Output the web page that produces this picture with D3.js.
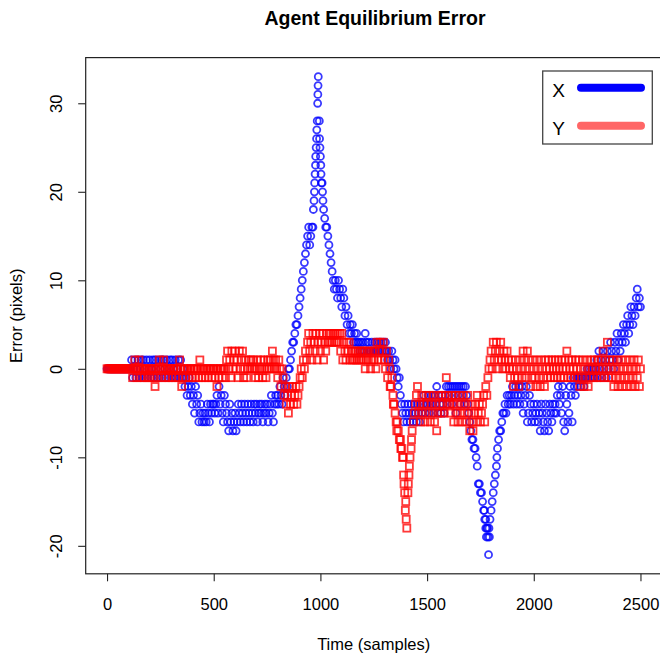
<!DOCTYPE html>
<html><head><meta charset="utf-8">
<script src="https://cdn.jsdelivr.net/npm/d3@7"></script>
<style>
body{margin:0;background:#fff}
text{font-family:"Liberation Sans",Arial,Helvetica,sans-serif;fill:#000}
</style>
</head><body>
<svg id="chart" width="660" height="658"></svg>
<script>
// ---------------- data ----------------
const chartTitle = "Agent Equilibrium Error";
const xLabel = "Time (samples)";
const yLabel = "Error (pixels)";
const seriesNames = ["X", "Y"];
const sampleStep = 5; // one reading every 5 samples, starting at sample 0

// X error (blue circles), samples 0..2500
const xErr = [
 0,0,0,0,0,0,0,0,0,0,0,0,0,0,0,0,0,0,0,0,
 0,0,0,1,-1,0,1,-1,0,1,-1,0,1,-1,1,0,-1,1,-1,0,
 1,-1,0,1,-1,1,0,-1,1,-1,0,1,-1,1,0,-1,1,-1,0,1,
 -1,1,0,-1,1,-1,0,1,-1,1,-1,0,-1,-2,-1,-3,-2,-1,-3,-2,
 -4,-3,-5,-2,-4,-3,-6,-5,-4,-6,-5,-6,-5,-6,-4,-5,-6,-4,-5,-4,
 -4,-5,-4,-3,-5,-2,-4,-3,-5,-6,-3,-4,-5,-6,-7,-4,-6,-5,-7,-6,
 -5,-7,-6,-4,-5,-6,-4,-5,-6,-4,-5,-6,-4,-5,-6,-4,-5,-6,-4,-5,
 -4,-6,-5,-4,-5,-4,-6,-5,-4,-5,-4,-6,-5,-4,-3,-5,-6,-4,-3,-4,
 -3,-4,-2,-3,-4,-1,-2,-3,-1,-2,0,0,1,2,3,3,4,5,5,6,
 7,8,9,10,11,12,13,14,15,16,14,15,16,16,19,22,25,28,33,28,
 24,21,20,18,17,16,16,15,14,13,12,11,10,9,10,9,8,10,9,8,
 7,9,8,6,7,5,6,4,5,4,5,3,4,3,4,3,3,2,3,2,
 3,2,4,3,2,3,2,2,3,2,2,3,2,3,2,3,2,3,2,3,
 2,3,2,1,2,1,0,2,1,0,1,0,-1,-2,-1,-3,-4,-5,-6,-4,
 -5,-6,-4,-5,-6,-4,-5,-6,-4,-5,-6,-4,-5,-6,-4,-5,-4,-3,-5,-4,
 -4,-3,-5,-4,-3,-4,-5,-3,-4,-2,-5,-3,-4,-5,-3,-4,-5,-3,-2,-4,
 -2,-3,-2,-4,-2,-3,-2,-5,-2,-3,-2,-4,-2,-3,-2,-4,-2,-3,-4,-5,
 -6,-7,-8,-8,-9,-9,-10,-11,-13,-13,-14,-14,-15,-16,-17,-17,-18,-19,-18,-17,
 -16,-15,-14,-13,-12,-11,-9,-8,-7,-7,-6,-5,-5,-4,-5,-3,-4,-3,-4,-3,
 -2,-4,-3,-2,-4,-3,-2,-4,-3,-2,-5,-4,-3,-2,-6,-5,-3,-4,-6,-5,
 -4,-6,-5,-4,-6,-5,-7,-4,-5,-6,-7,-4,-5,-6,-7,-4,-5,-6,-4,-5,
 -4,-5,-3,-2,-4,-3,-5,-2,-6,-7,-3,-4,-6,-5,-2,-3,-6,-1,-2,-3,
 -1,-2,-1,-1,-2,-1,-1,-2,-1,-1,0,-1,0,-1,0,-1,0,-1,0,1,
 -1,2,0,1,-1,2,0,1,-1,2,0,1,3,2,1,0,3,2,4,1,
 3,2,4,3,5,4,3,5,6,4,5,7,6,5,7,6,8,9,7,8,
 7
];
// extra X readings in the steep parts (sample, error)
const xExtraTime = [967,972,973,977,978,982,983,987,988,989,996,998,1002,1003,1008,1012,1768,1775,1778,1783,1788,1792,1827];
const xExtraErr  = [18,20,21,23,24,26,27,30,31,32,26,25,23,22,21,19,-16,-18,-19,-18,-21,-19,-10];

// Y error (red squares), samples 0..2500
const yErr = [
 0,0,0,0,0,0,0,0,0,0,0,0,0,0,0,0,0,0,0,0,
 0,0,0,0,-1,0,1,0,-1,0,1,0,-1,0,0,-1,0,0,-1,0,
 -1,0,0,-1,0,-2,0,-1,0,1,0,-1,0,1,0,-1,0,0,-1,0,
 0,-1,0,0,-1,0,0,-1,1,0,-2,-1,0,0,-1,0,0,-1,0,0,
 -1,0,0,-1,0,0,-1,1,0,-1,0,0,-1,0,0,-1,0,0,-1,0,
 0,-1,0,-2,0,-1,0,0,-1,0,0,-1,1,2,0,1,-1,2,0,1,
 2,0,1,-1,2,0,1,2,-1,0,1,-1,0,1,0,1,0,1,0,-1,
 0,1,-1,0,1,0,-1,1,0,-1,0,1,0,1,0,2,1,0,1,0,
 -1,1,0,-2,0,-1,-3,-2,-4,-3,-5,-2,-4,-3,-2,-4,-3,-2,-4,-3,
 -2,-1,0,-1,1,0,2,1,3,4,2,3,1,4,3,2,4,1,3,4,
 2,3,4,1,3,2,4,3,4,3,4,3,4,3,4,3,4,3,4,2,
 4,1,3,2,1,3,2,3,1,2,1,2,1,2,1,2,1,2,1,2,
 1,2,0,1,2,1,2,0,1,2,1,2,0,3,1,2,3,1,2,3,
 1,0,2,-1,1,0,-2,-1,-3,-4,-5,-6,-6,-7,-8,-8,-9,-10,-12,-14,
 -15,-18,-14,-12,-10,-9,-7,-6,-5,-4,-3,-2,-5,-4,-6,-3,-5,-4,-6,-3,
 -4,-5,-3,-6,-4,-5,-3,-6,-4,-7,-5,-3,-4,-5,-3,-4,-5,-3,-1,-4,
 -3,-4,-5,-3,-4,-6,-3,-5,-4,-6,-3,-5,-4,-6,-3,-5,-4,-6,-3,-5,
 -7,-4,-6,-7,-5,-4,-6,-3,-5,-4,-6,-5,-4,-3,-6,-2,-3,-1,0,1,
 2,0,3,1,2,3,0,1,2,3,1,0,2,1,0,2,1,0,-1,1,
 0,-2,-1,1,0,-1,-2,1,0,-1,2,1,0,-1,2,1,0,-2,-1,1,
 0,-1,-2,1,0,-1,-2,1,0,-1,-2,1,0,-1,1,0,-1,1,0,-1,
 1,0,-1,1,0,-1,1,0,-1,1,0,2,-1,1,0,-1,1,0,-1,1,
 0,-1,1,-2,0,-1,1,-2,0,-1,1,-2,0,-1,1,0,-1,1,0,-1,
 1,0,-1,1,0,2,-1,1,0,3,-1,1,0,-1,1,-2,0,-1,1,-2,
 0,-1,1,-2,0,-1,1,-2,0,-1,1,-2,0,-1,1,-2,0,-1,1,-2,
 0
];
const yExtraTime = [1327,1342,1358,1377,1388,1392,1398,1402,1412,1417,1427];
const yExtraErr  = [-2,-4,-7,-9,-10,-13,-16,-17,-13,-11,-8];

const xTicks = [0, 500, 1000, 1500, 2000, 2500];
const yTicks = [-20, -10, 0, 10, 20, 30];

// ---------------- build ----------------
const xPts = xErr.map((v, i) => ({t: i * sampleStep, v}))
  .concat(xExtraTime.map((t, i) => ({t, v: xExtraErr[i]})));
const yPts = yErr.map((v, i) => ({t: i * sampleStep, v}))
  .concat(yExtraTime.map((t, i) => ({t, v: yExtraErr[i]})));

const svg = d3.select("#chart");
const plot = {left: 85.7, right: 661.8, top: 57.6, bottom: 573.8};

// R-style 4% range expansion
function padded(ext) { const d = (ext[1] - ext[0]) * 0.04; return [ext[0] - d, ext[1] + d]; }
const tExt = d3.extent(xPts.concat(yPts), d => d.t);
const vExt = d3.extent(xPts.concat(yPts), d => d.v);

const x = d3.scaleLinear().domain(padded(tExt)).range([plot.left, plot.right]);
const y = d3.scaleLinear().domain(padded(vExt)).range([plot.bottom, plot.top]);

// points: X first, Y drawn on top
svg.append("g").selectAll("circle").data(xPts).join("circle")
  .attr("cx", d => x(d.t)).attr("cy", d => y(d.v)).attr("r", 3.5)
  .attr("fill", "none").attr("stroke", "#0000ff").attr("stroke-opacity", 0.78).attr("stroke-width", 1.8);

const sq = 7;
svg.append("g").selectAll("rect").data(yPts).join("rect")
  .attr("x", d => x(d.t) - sq / 2).attr("y", d => y(d.v) - sq / 2)
  .attr("width", sq).attr("height", sq)
  .attr("fill", "none").attr("stroke", "#ff0000").attr("stroke-opacity", 0.78).attr("stroke-width", 1.8);

// box
svg.append("rect").attr("x", plot.left).attr("y", plot.top)
  .attr("width", plot.right - plot.left).attr("height", plot.bottom - plot.top)
  .attr("fill", "none").attr("stroke", "#222").attr("stroke-width", 1.2);

// axes
const fs = 16.5;
const fmt = d => String(d);
const xAxis = svg.append("g").attr("transform", `translate(0,${plot.bottom})`)
  .call(d3.axisBottom(x).tickValues(xTicks).tickSize(7.5).tickSizeOuter(0).tickPadding(0).tickFormat(fmt));
xAxis.select(".domain").remove();
xAxis.selectAll("line").attr("stroke", "#222").attr("stroke-width", 1.1);
xAxis.selectAll("text").attr("y", 36.3).attr("dy", null)
  .attr("font-size", fs).attr("font-family", '"Liberation Sans",Arial,sans-serif').attr("fill", "#222");

const yAxis = svg.append("g").attr("transform", `translate(${plot.left},0)`)
  .call(d3.axisLeft(y).tickValues(yTicks).tickSize(7.5).tickSizeOuter(0).tickFormat(fmt));
yAxis.select(".domain").remove();
yAxis.selectAll("line").attr("stroke", "#222").attr("stroke-width", 1.1);
yAxis.selectAll("text").attr("x", null).attr("dy", null)
  .attr("transform", "translate(-24,0) rotate(-90)")
  .attr("text-anchor", "middle")
  .attr("font-size", fs).attr("font-family", '"Liberation Sans",Arial,sans-serif').attr("fill", "#222");

// titles
svg.append("text").attr("x", 375).attr("y", 25).attr("text-anchor", "middle")
  .attr("font-size", 19.5).attr("font-weight", "bold").text(chartTitle);
svg.append("text").attr("x", 373.7).attr("y", 650).attr("text-anchor", "middle")
  .attr("font-size", fs).attr("fill", "#222").text(xLabel);
svg.append("text").attr("transform", `translate(22,${(plot.top + plot.bottom) / 2}) rotate(-90)`)
  .attr("text-anchor", "middle").attr("font-size", fs).attr("fill", "#222").text(yLabel);

// legend
const lg = svg.append("g");
lg.append("rect").attr("x", 542.7).attr("y", 71).attr("width", 109.6).attr("height", 73)
  .attr("fill", "#fff").attr("stroke", "#444").attr("stroke-width", 1.3);
const legendColors = ["#0000ff", "#ff6666"];
const legendY = [87.7, 125.7];
seriesNames.forEach((n, i) => {
  lg.append("text").attr("x", 558.5).attr("y", legendY[i] + 8.8).attr("text-anchor", "middle")
    .attr("font-size", 19).text(n);
  lg.append("line").attr("x1", 581).attr("x2", 641).attr("y1", legendY[i]).attr("y2", legendY[i])
    .attr("stroke", legendColors[i]).attr("stroke-width", 8).attr("stroke-linecap", "round");
});
</script>
</body></html>
